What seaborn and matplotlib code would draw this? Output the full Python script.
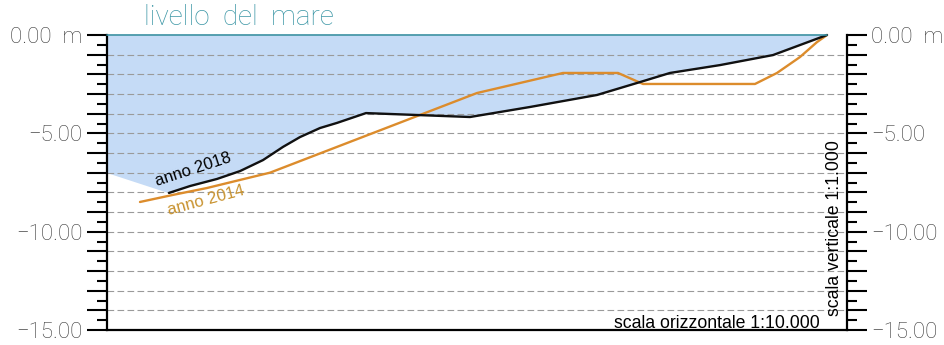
import numpy as np
import pandas as pd
import matplotlib
matplotlib.use("Agg")
import matplotlib.pyplot as plt
from matplotlib.ticker import MultipleLocator, FuncFormatter
import seaborn as sns

# ---- data (distance along profile, depth in m) ----
dist_2018 = [62, 83, 110, 133, 156, 176, 193, 213, 230, 259, 363, 423, 490, 530, 563, 613, 666, 720]
quota_2018 = [-8.03, -7.68, -7.32, -6.92, -6.36, -5.69, -5.19, -4.73, -4.47, -3.97,
              -4.17, -3.66, -3.05, -2.44, -1.93, -1.53, -1.02, 0.0]

dist_2014 = [33, 66, 100, 133, 163, 370, 456, 511, 536, 648, 670, 693, 710, 720]
quota_2014 = [-8.49, -8.13, -7.78, -7.37, -7.0, -2.95, -1.93, -1.93, -2.49, -2.49,
              -1.93, -1.12, -0.36, 0.0]

dist_mare = [0, 720]
quota_mare = [0.0, 0.0]

# left edge of the water area (start of the shaded region)
dist_bordo = [0]
quota_bordo = [-7.0]

y_ticks_labelled = [0, -5, -10, -15]
grid_levels = list(range(-14, 0))

label_2018 = "anno 2018"
label_2014 = "anno 2014"

df18 = pd.DataFrame({"dist": dist_2018, "quota": quota_2018})
df14 = pd.DataFrame({"dist": dist_2014, "quota": quota_2014})
dfm = pd.DataFrame({"dist": dist_mare, "quota": quota_mare})

sns.set_theme(style="white")
plt.rcParams["font.family"] = ["Liberation Sans", "DejaVu Sans"]

fig = plt.figure(figsize=(9.45, 3.45), dpi=100)
ax = fig.add_axes([107 / 945, 15 / 345, 740 / 945, 295 / 345])
ax.set_xlim(0, 740)
ax.set_ylim(-15, 0)

# water area
fx = np.array(dist_bordo + dist_2018, dtype=float)
fy = np.array(quota_bordo + quota_2018, dtype=float)
ax.fill_between(fx, fy, 0, color="#c5dbf6", lw=0, zorder=1)

# dashed level lines
ax.hlines(grid_levels, 0, 740, colors="#9a9a9a", linestyles=(0, (6, 3)), lw=0.8, zorder=1.5)

# profiles
sns.lineplot(data=df14, x="dist", y="quota", ax=ax, color="#dc8c2c", lw=1.7,
             estimator=None, sort=False, zorder=3, clip_on=False)
sns.lineplot(data=df18, x="dist", y="quota", ax=ax, color="#111111", lw=1.7,
             estimator=None, sort=False, zorder=4, clip_on=False)
sns.lineplot(data=dfm, x="dist", y="quota", ax=ax, color="#3a90a2", lw=1.2,
             estimator=None, sort=False, zorder=5, clip_on=False)

# axes styling
for s in ["left", "right", "bottom"]:
    ax.spines[s].set_visible(True)
    ax.spines[s].set_color("black")
    ax.spines[s].set_linewidth(1.6)
ax.spines["top"].set_visible(False)

ax.set_xticks([])
ax.set_xlabel("")
ax.set_ylabel("")
ax.yaxis.set_major_locator(MultipleLocator(1))
ax.yaxis.set_minor_locator(MultipleLocator(0.5))


def fmt(v, pos):
    r = int(round(v))
    if abs(v - r) > 1e-6 or r not in y_ticks_labelled:
        return ""
    if r == 0:
        return "0.00  m"
    return "\u2212%.2f" % abs(r)


ax.yaxis.set_major_formatter(FuncFormatter(fmt))
ax.tick_params(axis="y", which="major", direction="out", length=14.5, width=1.5,
               color="black", left=True, right=True, labelleft=True, labelright=True,
               labelsize=16, labelcolor="#3a3a3a", pad=3)
ax.tick_params(axis="y", which="minor", direction="out", length=7, width=1.5,
               color="black", left=True, right=True)
for lab in ax.get_yticklabels():
    lab.set_fontfamily(["Roboto", "DejaVu Sans"])
    lab.set_fontweight("light")

# texts
ax.text(37, 0.2, "livello  del  mare", color="#3d97a6", fontsize=20,
        family=["Roboto", "DejaVu Sans"], weight="light", va="bottom", ha="left", clip_on=False)
ax.text(86, -6.85, label_2018, color="black", fontsize=12,
        family=["Liberation Sans"], rotation=18,
        rotation_mode="anchor", ha="center", va="center", zorder=6)
ax.text(99, -8.4, label_2014, color="#c8922e", fontsize=12,
        family=["Liberation Sans"], rotation=15,
        rotation_mode="anchor", ha="center", va="center", zorder=6)
ax.text(713, -14.88, "scala orizzontale 1:10.000", color="black", fontsize=12.7,
        family=["Liberation Sans"], ha="right", va="baseline")
ax.text(728, -9.8, "scala verticale 1:1.000", color="black", fontsize=12.7,
        family=["Liberation Sans"], rotation=90,
        ha="center", va="center")

fig.savefig("out.png", dpi=100)
